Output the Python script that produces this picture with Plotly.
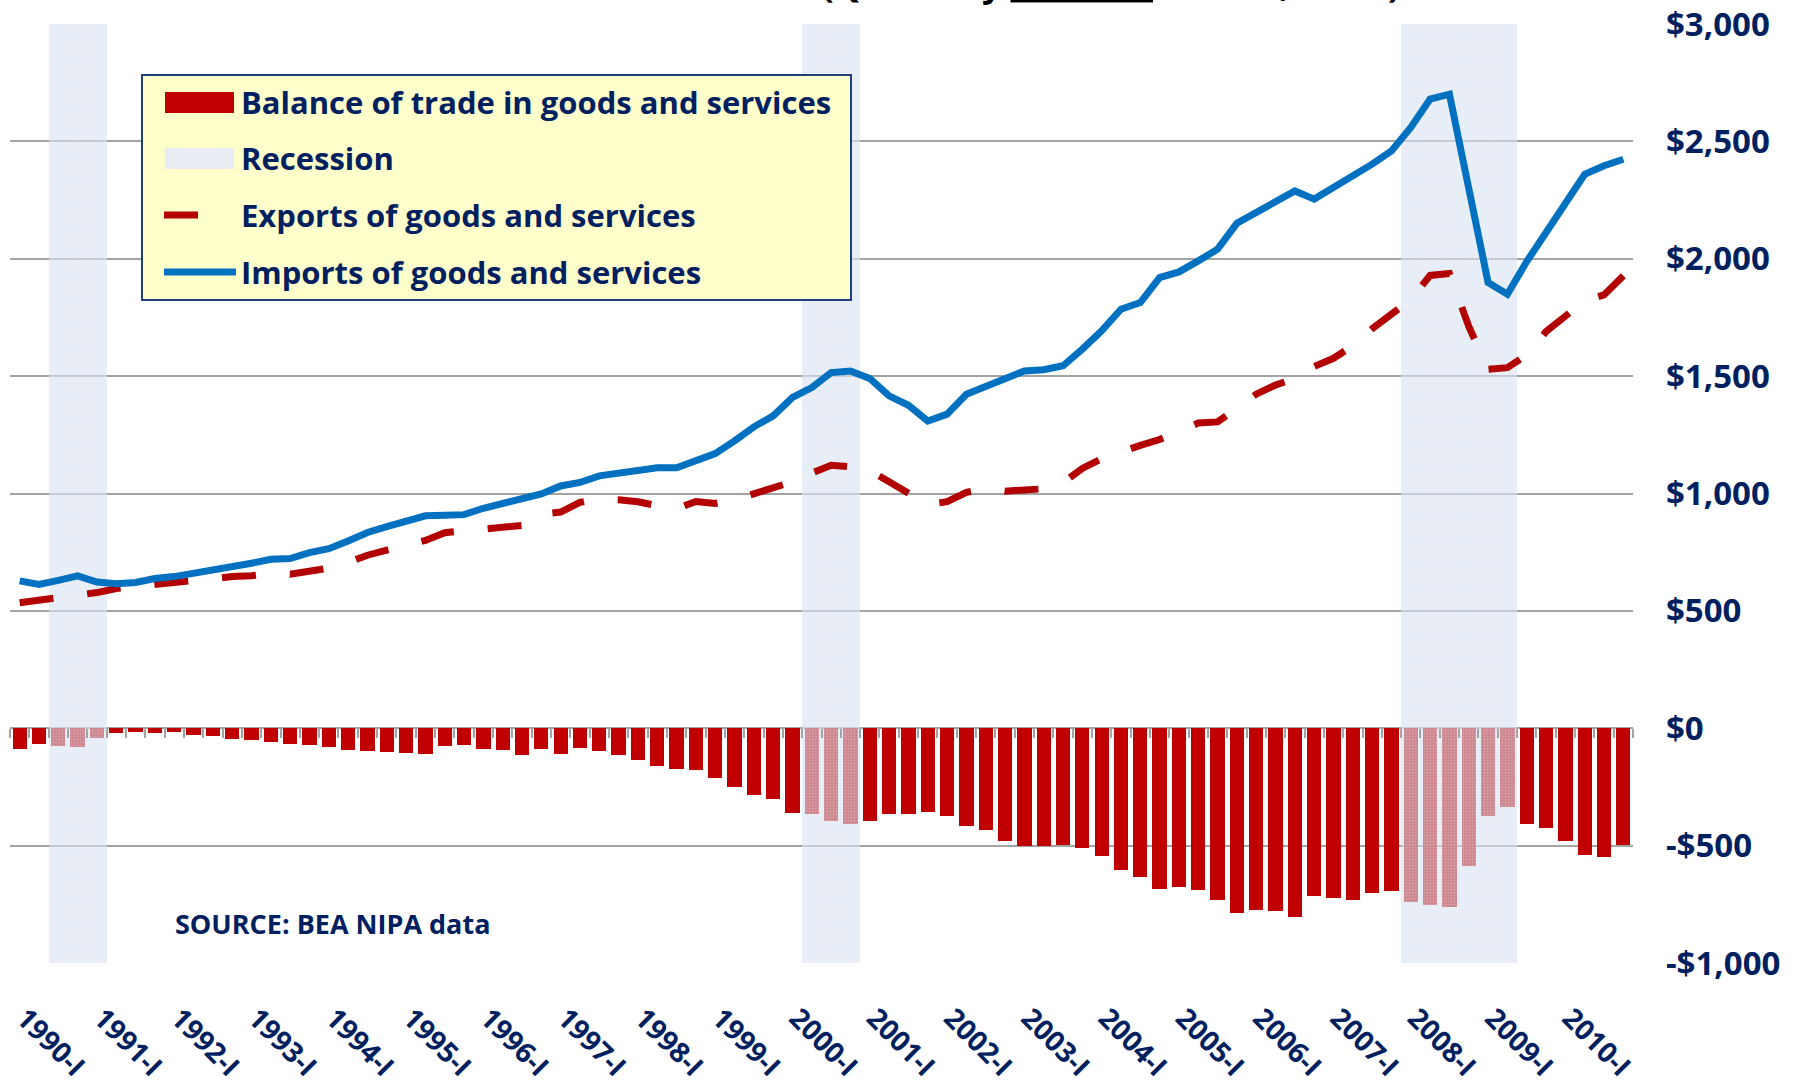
import plotly.graph_objects as go

# quarterly categories 1990-I .. 2010-IV
quarters = [f"{y}-{q}" for y in range(1990, 2011) for q in ("I", "II", "III", "IV")]

# billions of dollars
imports = [628, 613, 630, 649, 623, 616, 621, 638, 646, 659, 677, 692, 703, 720, 723, 748,
           765, 798, 834, 859, 883, 905, 907, 910, 937, 957, 978, 998, 1032, 1047, 1075, 1089,
           1100, 1110, 1110, 1143, 1170, 1224, 1284, 1331, 1409, 1451, 1515, 1522, 1490, 1416,
           1376, 1309, 1338, 1423, 1456, 1487, 1522, 1527, 1544, 1615, 1693, 1785, 1813, 1920,
           1944, 1991, 2041, 2151, 2197, 2246, 2289, 2254, 2303, 2353, 2403, 2459, 2559, 2680,
           2701, 2300, 1899, 1849, 1988, 2112, 2232, 2360, 2396, 2424]

exports = [535, 545, 557, 567, 578, 595, 604, 613, 621, 631, 643, 646, 650, 660, 656, 672,
           682, 707, 737, 759, 778, 800, 833, 840, 848, 860, 864, 912, 921, 962, 978, 973,
           965, 948, 935, 966, 958, 973, 1000, 1028, 1050, 1087, 1120, 1114, 1098, 1050,
           1005, 953, 965, 1005, 1021, 1010, 1015, 1020, 1046, 1107, 1148, 1180, 1205, 1230,
           1268, 1300, 1305, 1365, 1423, 1462, 1490, 1541, 1576, 1630, 1702, 1764, 1825, 1929,
           1937, 1712, 1529, 1536, 1590, 1690, 1758, 1821, 1846, 1928]

balance = [-88, -67, -74, -78, -43, -20, -17, -19, -17, -28, -34, -44, -52, -59, -65, -72,
           -80, -91, -97, -101, -105, -109, -75, -70, -89, -94, -114, -88, -108, -85, -97, -116,
           -135, -162, -175, -178, -212, -251, -284, -301, -359, -364, -395, -409, -395, -364,
           -366, -356, -373, -417, -435, -479, -503, -503, -498, -508, -544, -605, -635, -686,
           -676, -689, -733, -788, -774, -778, -804, -713, -724, -730, -701, -694, -738, -751,
           -761, -586, -375, -334, -408, -425, -479, -538, -550, -496]

# 1 = recession quarter (as shaded on the chart)
recession = [0, 0, 1, 1, 1] + [0] * 36 + [1, 1, 1] + [0] * 28 + [1] * 6 + [0] * 6

yticks = [-1000, -500, 0, 500, 1000, 1500, 2000, 2500, 3000]
yticklabels = ["-$1,000", "-$500", "$0", "$500", "$1,000", "$1,500", "$2,000", "$2,500", "$3,000"]

NAVY = "#002060"
RED = "#C00000"
BLUE = "#0070C0"
GRID = "#A3A3A3"
FONT = "Open Sans"

x = list(range(len(quarters)))

fig = go.Figure()

fig.add_trace(go.Bar(x=x, y=balance, width=0.74, marker_color=RED, marker_line_width=0,
                     name="Balance of trade in goods and services", showlegend=False))

# recession shading drawn as full-height columns, like the original spreadsheet
fig.add_trace(go.Bar(x=x, y=[4000 * r for r in recession], base=-1000, width=1.0,
                     marker=dict(color="rgba(214,225,240,0.6)", line_width=0,
                                 pattern=dict(shape=".", fgcolor="rgba(255,255,255,0.55)",
                                              size=3, solidity=0.25, fillmode="overlay")),
                     name="Recession", showlegend=False))

fig.add_trace(go.Scatter(x=x, y=exports, mode="lines", line=dict(color="#B30000", width=7, dash="34px,34px"),
                         name="Exports of goods and services", showlegend=False))
fig.add_trace(go.Scatter(x=x, y=imports, mode="lines", line=dict(color=BLUE, width=7),
                         name="Imports of goods and services", showlegend=False))

# carrier trace for the tick marks along the $0 line
fig.add_trace(go.Scatter(x=[None], y=[None], xaxis="x2", yaxis="y", showlegend=False, hoverinfo="skip"))

fig.update_layout(
    width=1799, height=1083, autosize=False,
    margin=dict(l=10, r=166, t=24, b=120),
    paper_bgcolor="white", plot_bgcolor="white",
    barmode="overlay", bargap=0,
    font=dict(family=FONT, color=NAVY),
    xaxis=dict(range=[-0.5, 83.5], tickvals=x[::4], ticktext=quarters[::4], tickangle=45,
               tickfont=dict(family=FONT, size=28, color=NAVY, weight="bold"),
               showgrid=False, zeroline=False, showline=False, ticks="",
               ticklabelstandoff=32, ticklabelshift=5, automargin=False),
    xaxis2=dict(overlaying="x", anchor="free", position=0.25, range=[-0.5, 83.5],
                tickvals=[i - 0.5 for i in range(len(quarters) + 1)], ticks="outside", ticklen=9,
                tickwidth=2, tickcolor=GRID, showticklabels=False, showgrid=False,
                zeroline=False, showline=False, automargin=False),
    yaxis=dict(range=[-1000, 3000], side="right", tickvals=yticks, ticktext=yticklabels,
               tickfont=dict(family=FONT, size=33, color=NAVY, weight="bold"),
               showgrid=True, gridcolor=GRID, gridwidth=2,
               zeroline=True, zerolinecolor=GRID, zerolinewidth=2,
               showline=False, ticks="", ticklabelstandoff=32, automargin=False),
)


def px(v):
    return (v - 10) / 1623


def py(v):
    return (963 - v) / 939


shapes = [
    dict(type="rect", xref="paper", yref="paper", x0=px(142), x1=px(851), y0=py(300), y1=py(75),
         fillcolor="#FFFFCC", line=dict(color="#1F3F7F", width=2), layer="above"),
    dict(type="rect", xref="paper", yref="paper", x0=px(165), x1=px(234), y0=py(113), y1=py(92),
         fillcolor=RED, line_width=0, layer="above"),
    dict(type="rect", xref="paper", yref="paper", x0=px(165), x1=px(234), y0=py(169), y1=py(148),
         fillcolor="#E8EDF3", line_width=0, layer="above"),
    dict(type="line", xref="paper", yref="paper", x0=px(164), x1=px(198), y0=py(215), y1=py(215),
         line=dict(color="#B30000", width=7), layer="above"),
    dict(type="line", xref="paper", yref="paper", x0=px(164), x1=px(236), y0=py(272), y1=py(272),
         line=dict(color=BLUE, width=7), layer="above"),
]
fig.update_layout(shapes=shapes)

legend_rows = [("Balance of trade in goods and services", 102),
               ("Recession", 158),
               ("Exports of goods and services", 215),
               ("Imports of goods and services", 272)]
for txt, yy in legend_rows:
    fig.add_annotation(x=px(239), y=py(yy), xref="paper", yref="paper", text="<b>" + txt + "</b>",
                       showarrow=False, xanchor="left", yanchor="middle",
                       font=dict(family=FONT, size=31, color=NAVY))

fig.add_annotation(x=px(173), y=py(923), xref="paper", yref="paper", text="<b>SOURCE: BEA NIPA data</b>",
                   showarrow=False, xanchor="left", yanchor="middle",
                   font=dict(family=FONT, size=27, color=NAVY))

# title line sits almost entirely above the visible area in the original
fig.add_annotation(x=px(820), y=py(9), xref="paper", yref="paper",
                   text="<b>(Quarterly <u>nominal</u> dollars, SAAR)</b>",
                   showarrow=False, xanchor="left", yanchor="bottom",
                   font=dict(family=FONT, size=34.5, color="black"))

# drop the browser's default body margin so the figure fills the window exactly
fig.write_html("out.html", config={"displayModeBar": False},
               post_script="document.body.style.margin = '0px';")
